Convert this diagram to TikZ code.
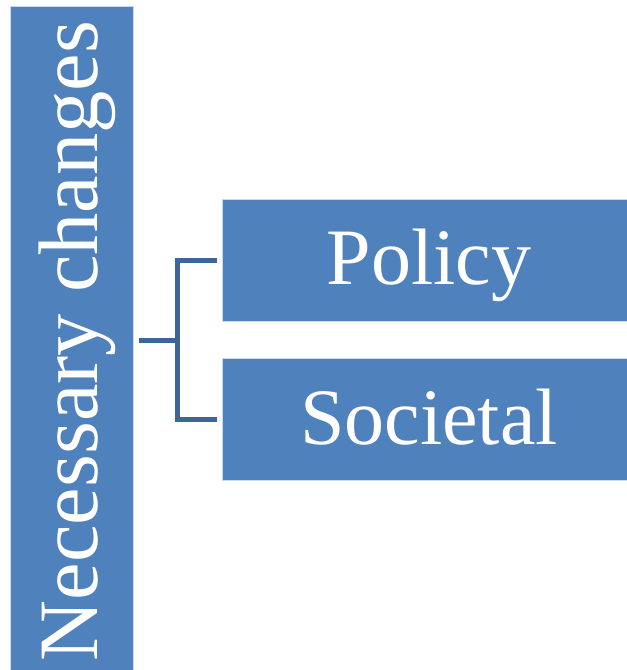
\documentclass[tikz,border=0pt]{standalone}
\usepackage{fontspec}
\setmainfont{Liberation Serif}
\usetikzlibrary{positioning}
\definecolor{boxblue}{HTML}{4F81BD}
\definecolor{linkblue}{HTML}{3D6596}

\begin{document}
\begin{tikzpicture}[x=1pt,y=-1pt]
\tikzstyle{bar}=[rectangle,
  fill=boxblue,draw=white!70!boxblue,line width=1pt,
  text=white,inner sep=0pt
]

\tikzstyle{item}=[bar,
  minimum width=414pt,
  minimum height=122pt,
  text height=59pt,text depth=9.5pt,
  font=\fontsize{80}{82}\selectfont
]

\tikzstyle{link}=[draw=linkblue,line width=5pt]

\useasboundingbox (0,0) rectangle (627,670);

\node[bar,anchor=north west,minimum width=123pt,minimum height=680pt] (N) at (10,6) {};
\node[rotate=90,anchor=base,text=white,inner sep=0pt,
  font=\fontsize{84.5}{86}\selectfont] (Nlabel) at (97,341) {Necessary changes};

\node[item] (P) at (429,260) {Policy};
\node[item] (S) at (429,419.5) {Societal};

\coordinate (fork) at (177,340);
\draw[link,shorten <=5pt] (N.east |- fork) -- (fork);
\draw[link,shorten <=5pt,shorten >=5pt] (P.west) -| (fork) |- (S.west);
\end{tikzpicture}
\end{document}
